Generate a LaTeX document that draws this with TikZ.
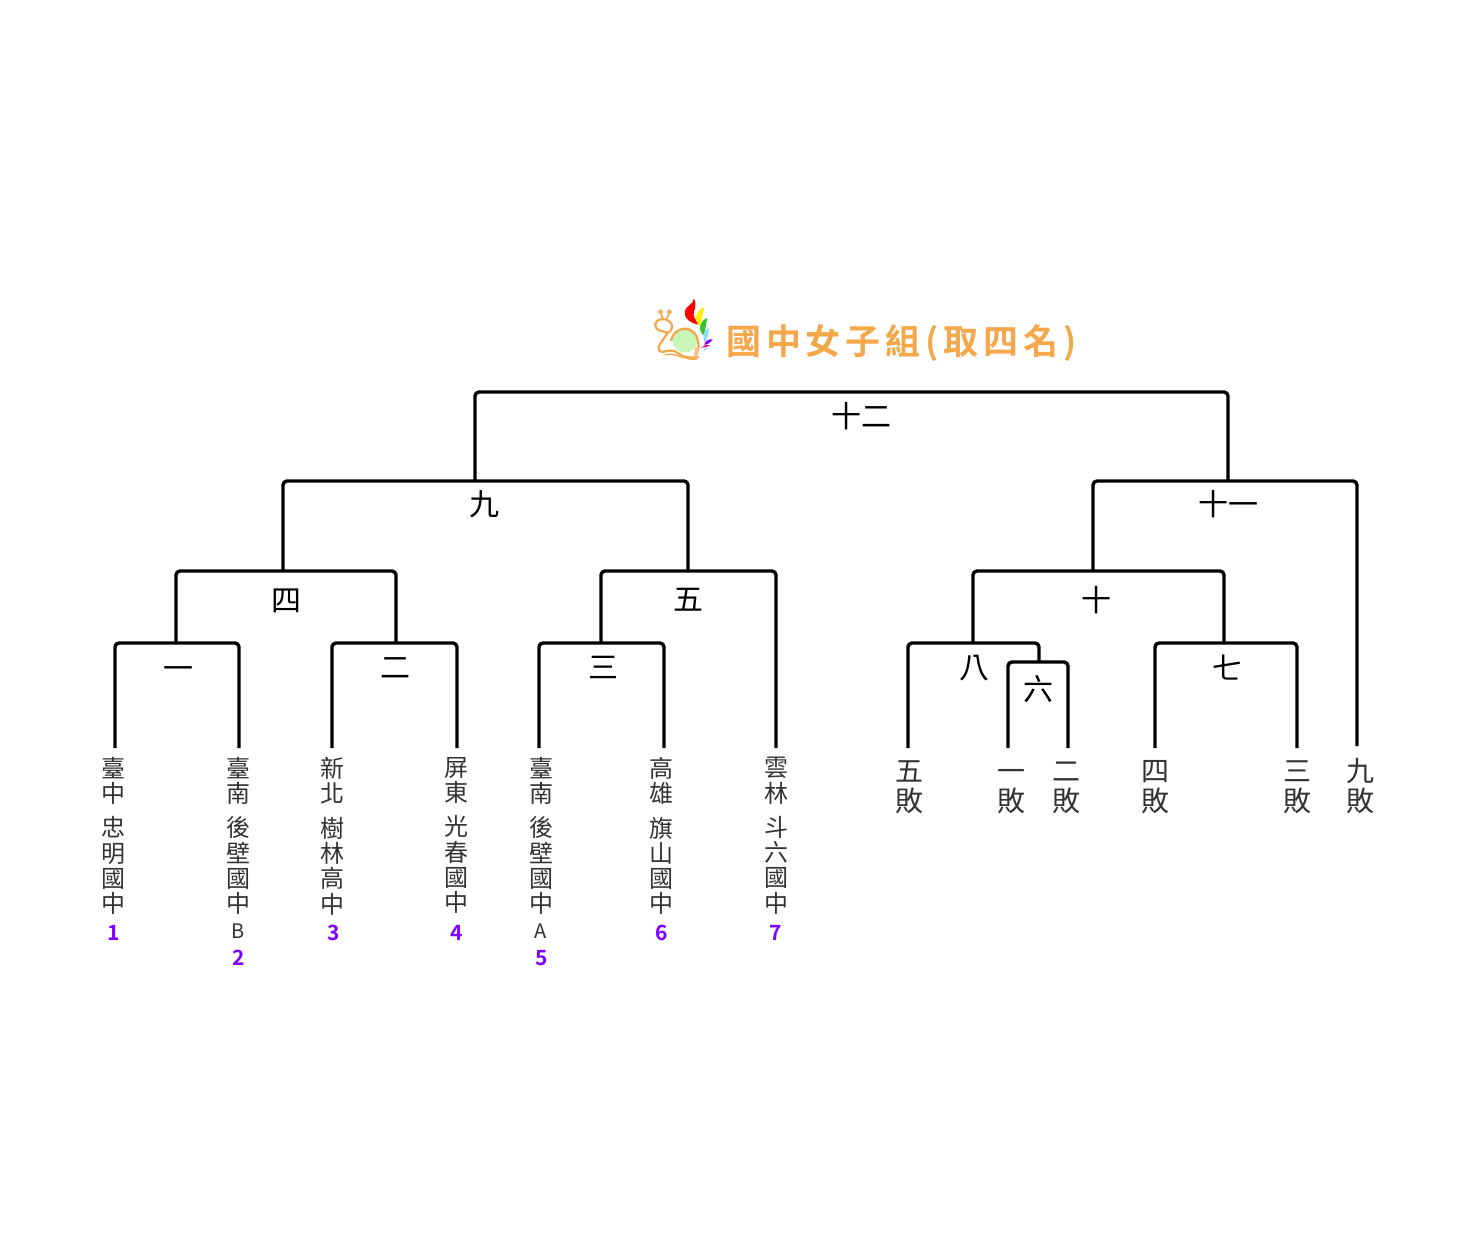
\documentclass[tikz,border=0pt]{standalone}
\usepackage{fontspec}
\usepackage{xcolor}
\usetikzlibrary{positioning}
\newfontfamily\cjk{Noto Sans CJK TC}
\newfontfamily\cjkbold{Noto Sans CJK TC Bold}
\newfontfamily\cjktitle[LetterSpace=14]{Noto Sans CJK TC Bold}
\definecolor{ink}{HTML}{333333}
\definecolor{seed}{HTML}{7F00FF}
\definecolor{snail}{HTML}{F4A84B}
\definecolor{shell}{HTML}{C8F5B8}

\begin{document}
\begin{tikzpicture}[x=1pt, y=-1pt,
bracket/.style={line width=3.4pt, rounded corners=4pt, line join=round},
team/.style={anchor=north, inner xsep=0pt, inner ysep=9pt, align=center, text=ink, font=\cjk\fontsize{24}{25.3}\selectfont},
lost/.style={anchor=north, inner xsep=0pt, inner ysep=12pt, align=center, text=ink, font=\cjk\fontsize{28}{30.5}\selectfont},
game/.style={inner sep=0pt, font=\cjk\fontsize{30}{30}\selectfont},
seednum/.style={inner sep=0pt, text=seed, font=\cjkbold\fontsize{21}{21}\selectfont}
]
\useasboundingbox (0,0) rectangle (1476,1240);

% Logo
\begin{scope}[shift={(645,290)}, x=0.333pt, y=-0.333pt]
\fill[shell] (120,150) circle (38);
\draw[snail, line width=2.2pt, line cap=round, line join=round]
  (78,152) .. controls (85,115) and (135,100) .. (155,140) .. controls (165,165) and (160,185) .. (152,195);
\draw[snail, line width=2.2pt, line cap=round, line join=round]
  (72,128) .. controls (95,105) and (70,85) .. (50,88) .. controls (25,90) and (25,115) .. (45,122) -- (68,128)
  .. controls (55,150) and (35,170) .. (42,182) .. controls (50,195) and (75,170) .. (100,190) .. controls (115,203) and (140,205) .. (160,202);
\draw[snail, line width=1.4pt, line cap=round] (60,195) .. controls (90,185) and (110,210) .. (155,208);
\draw[snail, line width=1.8pt] (54,86) -- (48,72) (64,86) -- (72,72);
\draw[snail, line width=1.6pt] (47,66) circle (5) (73,66) circle (5);
\fill[snail!70] (150,172) -- (160,172) -- (158,200) -- (148,198) -- cycle;
\fill[red] (147,25) .. controls (158,50) and (145,60) .. (146,75) .. controls (147,88) and (158,92) .. (160,104) .. controls (138,100) and (115,85) .. (120,62) .. controls (125,45) and (145,45) .. (147,25);
\fill[yellow] (178,52) .. controls (172,66) and (174,85) .. (165,110) .. controls (148,95) and (148,60) .. (178,52);
\fill[green!70!black!80!white] (188,84) .. controls (182,98) and (185,115) .. (175,136) .. controls (158,120) and (165,90) .. (188,84);
\fill[cyan!45] (192,114) .. controls (190,128) and (192,142) .. (178,158) .. controls (172,138) and (176,120) .. (192,114);
\fill[seed] (204,148) .. controls (198,156) and (190,164) .. (178,165) .. controls (180,152) and (192,147) .. (204,148);
\fill[magenta] (196,165) .. controls (188,172) and (178,174) .. (168,173) .. controls (176,166) and (186,164) .. (196,165);
\fill[cyan!40] (192,175) -- (178,182) -- (176,177) -- cycle;
\end{scope}

% Title
\node[inner sep=0pt, anchor=west, text=snail, font=\cjktitle\fontsize{35}{35}\selectfont] (title) at (726,343) {國中女子組(取四名)};

% Left teams
\node[team] (t1) at (113,748) {臺\\中\\[9pt]忠\\明\\國\\中};
\node[team] (t2) at (238,748) {臺\\南\\[9pt]後\\壁\\國\\中\\{\fontsize{20}{25}\selectfont B}};
\node[team] (t3) at (332,748) {新\\北\\[9pt]樹\\林\\高\\中};
\node[team] (t4) at (456,748) {屏\\東\\[9pt]光\\春\\國\\中};
\node[team] (t5) at (541,748) {臺\\南\\[9pt]後\\壁\\國\\中\\{\fontsize{20}{25}\selectfont A}};
\node[team] (t6) at (661,748) {高\\雄\\[9pt]旗\\山\\國\\中};
\node[team] (t7) at (776,748) {雲\\林\\[9pt]斗\\六\\國\\中};

% Seeds
\node[seednum] (s1) at (114,933) {1};
\node[seednum] (s2) at (239,958) {2};
\node[seednum] (s3) at (334,933) {3};
\node[seednum] (s4) at (457,933) {4};
\node[seednum] (s5) at (542,958) {5};
\node[seednum] (s6) at (662,933) {6};
\node[seednum] (s7) at (776,933) {7};

% Right entries
\node[lost] (w5) at (909,748) {五\\敗};
\node[lost] (w1) at (1011,748) {\vphantom{五}一\\敗};
\node[lost] (w2) at (1066,748) {\vphantom{五}二\\敗};
\node[lost] (w4) at (1155,748) {\vphantom{五}四\\敗};
\node[lost] (w3) at (1297,748) {\vphantom{五}三\\敗};
\node[lost] (w9) at (1360,746) {\vphantom{五}九\\敗};

% Junctions
\coordinate (g1) at (176,643);
\coordinate (g2) at (396,643);
\coordinate (g3) at (601,643);
\coordinate (g4) at (283,571);
\coordinate (g5) at (688,571);
\coordinate (g6) at (1039,662);
\coordinate (g7) at (1224,643);
\coordinate (g8) at (973,643);
\coordinate (g9) at (475,481);
\coordinate (g10) at (1093,571);
\coordinate (g11) at (1228,481);
\coordinate (g12) at (860,392);

% Brackets
\draw[bracket] ([xshift=2pt]t1.north) |- (g1) -| ([xshift=1pt]t2.north);
\draw[bracket] (t3.north) |- (g2) -| ([xshift=1pt]t4.north);
\draw[bracket] ([xshift=-2pt]t5.north) |- (g3) -| ([xshift=3pt]t6.north);
\draw[bracket] (g1) |- (g4) -| (g2);
\draw[bracket] (g3) |- (g5) -| (t7.north);
\draw[bracket] (g4) |- (g9) -| (g5);
\draw[bracket] ([xshift=-3pt]w1.north) |- (g6) -| ([xshift=2pt]w2.north);
\draw[bracket] ([xshift=-1pt]w5.north) |- (g8) -| (g6);
\draw[bracket] (w4.north) |- (g7) -| (w3.north);
\draw[bracket] (g8) |- (g10) -| (g7);
\draw[bracket] (g10) |- (g11) -| ([xshift=-3pt]w9.north);
\draw[bracket] (g9) |- (g12) -| (g11);

% Game labels
\node[game] (n1) at (178,673) {一};
\node[game] (n2) at (395,668) {二};
\node[game] (n3) at (603,667) {三};
\node[game] (n4) at (286,601) {四};
\node[game] (n5) at (688,600) {五};
\node[game] (n6) at (1038,689) {六};
\node[game] (n7) at (1227,668) {七};
\node[game] (n8) at (974,668) {八};
\node[game] (n9) at (484,504) {九};
\node[game] (n10) at (1096,600) {十};
\node[game] (n11) at (1228,504) {十一};
\node[game] (n12) at (861,416) {十二};

\end{tikzpicture}
\end{document}
